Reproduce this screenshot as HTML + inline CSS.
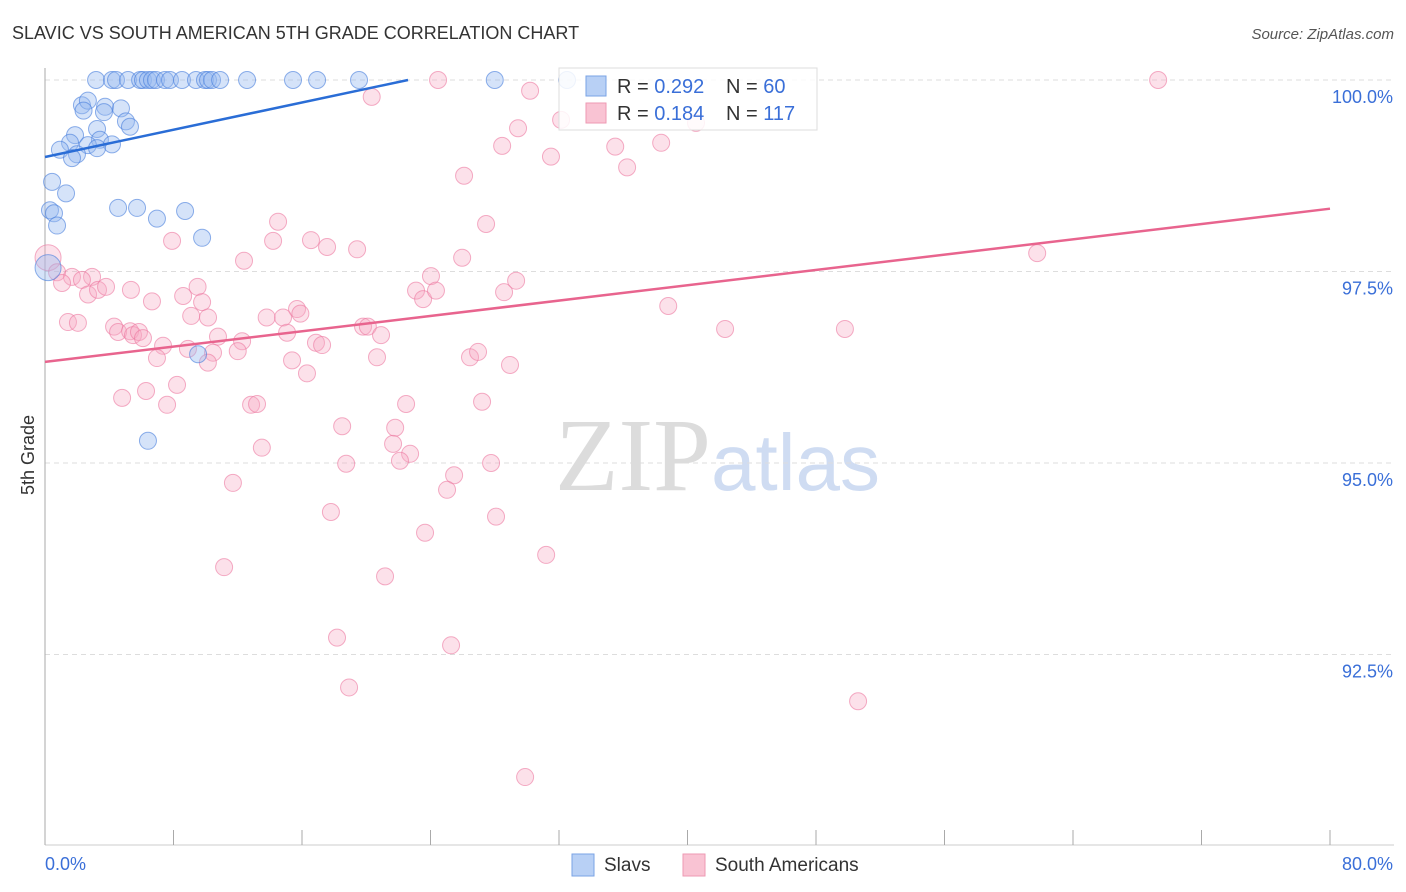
<!DOCTYPE html>
<html><head><meta charset="utf-8"><style>
body{margin:0;background:#fff;font-family:"Liberation Sans",sans-serif}
svg{display:block}
</style></head><body>
<svg id="chart" width="1406" height="892" xmlns="http://www.w3.org/2000/svg">
<text x="12" y="39" font-size="18" fill="#333" font-family="Liberation Sans, sans-serif">SLAVIC VS SOUTH AMERICAN 5TH GRADE CORRELATION CHART</text>
<text x="1394" y="39" font-size="15" fill="#555" font-style="italic" text-anchor="end">Source: ZipAtlas.com</text>
<text x="555" y="490" font-size="104" font-family="Liberation Serif, serif" fill="#dcdcdc">ZIP<tspan fill="#cfdcf2" font-family="Liberation Sans, sans-serif" font-size="80">atlas</tspan></text>
<text transform="translate(34,455) rotate(-90)" font-size="18" fill="#333" text-anchor="middle">5th Grade</text>
<g id="grid"></g><g id="axes"></g><g id="pts"></g><g id="lines"></g>
<g>
<rect x="559" y="68" width="258" height="62" fill="rgba(255,255,255,0.85)" stroke="#ddd"/>
<rect x="586" y="76" width="20" height="20" fill="#b8d0f5" stroke="#7aa3e5"/>
<rect x="586" y="103" width="20" height="20" fill="#f9c3d3" stroke="#ee99b3"/>
<text x="617" y="93" font-size="20" fill="#333">R = <tspan fill="#3a6fd8">0.292</tspan></text>
<text x="726" y="93" font-size="20" fill="#333">N = <tspan fill="#3a6fd8"> 60</tspan></text>
<text x="617" y="120" font-size="20" fill="#333">R = <tspan fill="#3a6fd8"> 0.184</tspan></text>
<text x="726" y="120" font-size="20" fill="#333">N = <tspan fill="#3a6fd8">117</tspan></text>
</g>
<g>
<rect x="572" y="854" width="22" height="22" fill="#b8d0f5" stroke="#7aa3e5"/>
<text x="604" y="871" font-size="19" fill="#333">Slavs</text>
<rect x="683" y="854" width="22" height="22" fill="#f9c3d3" stroke="#ee99b3"/>
<text x="715" y="871" font-size="19" fill="#333">South Americans</text>
</g>
</svg>
<script>
const yTicks=[100,97.5,95,92.5];
const yTickLabels=["100.0%","97.5%","95.0%","92.5%"];
const xTicks=[0,8,16,24,32,40,48,56,64,72,80];
const slavX=[3.18,4.17,4.42,5.17,5.92,6.1,6.41,6.66,6.91,7.47,7.78,8.53,9.4,9.96,10.15,10.4,10.9,12.58,15.44,16.94,19.55,28.0,32.5,2.3,2.67,2.4,3.74,4.73,3.67,5.04,5.29,3.24,1.87,3.42,4.17,2.67,1.56,0.93,1.99,1.68,3.24,0.44,1.31,0.31,0.56,0.75,4.55,5.73,6.97,8.72,9.78,0.19,9.53,6.41];
const slavY=[100,100,100,100,100,100,100,100,100,100,100,100,100,100,100,100,100,100,100,100,100,100,100,99.67,99.73,99.6,99.65,99.63,99.58,99.46,99.39,99.36,99.28,99.22,99.16,99.15,99.18,99.09,99.03,98.98,99.11,98.67,98.52,98.3,98.26,98.1,98.33,98.33,98.19,98.29,97.94,97.55,96.42,95.29];
const saX=[69.3,24.47,30.2,20.34,29.45,32.13,28.46,31.5,35.5,36.24,38.36,40.53,26.09,27.46,14.51,14.2,16.56,17.56,19.43,7.91,12.39,25.97,61.77,0.19,0.75,1.68,2.93,2.3,1.06,2.68,3.3,3.8,5.35,6.66,8.6,9.5,9.78,9.1,10.15,13.8,15.69,15.9,14.82,23.1,23.54,24.03,24.34,28.58,29.33,38.8,42.34,49.8,1.43,2.05,4.3,4.55,5.3,5.48,5.85,6.1,7.35,10.77,12.27,15.07,16.87,17.25,19.8,20.1,20.92,8.9,10.46,12.0,6.97,10.14,15.38,16.31,20.67,26.46,26.96,28.95,8.22,6.29,4.8,7.6,12.83,13.2,22.48,27.21,18.5,21.8,13.5,21.67,22.73,22.1,18.75,27.77,25.47,11.7,25.03,17.8,28.08,23.66,31.2,11.15,21.17,18.18,25.28,18.93,50.62,29.89];
const saY=[100,100,99.86,99.78,99.37,99.48,99.14,99.0,99.13,98.86,99.18,99.44,98.75,98.12,98.15,97.9,97.91,97.82,97.79,97.9,97.64,97.68,97.74,97.68,97.49,97.43,97.43,97.39,97.35,97.2,97.26,97.3,97.26,97.11,97.18,97.3,97.1,96.92,96.9,96.9,97.01,96.95,96.9,97.25,97.14,97.44,97.25,97.23,97.38,97.05,96.75,96.75,96.84,96.83,96.78,96.71,96.72,96.67,96.71,96.63,96.53,96.65,96.59,96.7,96.57,96.54,96.78,96.78,96.67,96.49,96.44,96.46,96.37,96.31,96.34,96.17,96.38,96.38,96.45,96.28,96.02,95.94,95.85,95.76,95.76,95.77,95.77,95.8,95.48,95.46,95.2,95.25,95.12,95.03,94.99,95.0,94.84,94.74,94.65,94.36,94.3,94.09,93.8,93.64,93.52,92.72,92.62,92.07,91.89,90.9];
const slavTrend=[[0,98.995],[22.6,100]];
const saTrend=[[0,96.32],[80,98.32]];
const NS="http://www.w3.org/2000/svg";
const X=v=>45+v*1285/80, Y=v=>80+(100-v)*76.6;
function mk(t,a,p){const e=document.createElementNS(NS,t);for(const k in a)e.setAttribute(k,a[k]);document.getElementById(p).appendChild(e);return e;}
yTicks.forEach((t,i)=>{
 const g=mk('line',{x1:45,x2:1394,y1:Y(t),y2:Y(t),stroke:'#ddd','stroke-dasharray':'5,4'},'grid');
 
 
 const l=mk('text',{x:1393,y:Y(t)+23,'font-size':18,fill:'#3a6fd8','text-anchor':'end'},'axes');
 l.textContent=yTickLabels[i];
 
 
});
const ax=mk('line',{x1:45,x2:45,y1:68,y2:845,stroke:'#aaa'},'axes');


const bx=mk('line',{x1:45,x2:1394,y1:845,y2:845,stroke:'#ccc'},'axes');


xTicks.forEach(t=>{
 const k=mk('line',{x1:X(t),x2:X(t),y1:830,y2:845,stroke:'#aaa'},'axes');
 
 
});
const x0=mk('text',{x:45,y:870,'font-size':18,fill:'#3a6fd8'},'axes');x0.textContent='0.0%';


const x1=mk('text',{x:1393,y:870,'font-size':18,fill:'#3a6fd8','text-anchor':'end'},'axes');x1.textContent='80.0%';


saX.forEach((v,i)=>{
 const c=mk('circle',{cx:X(v),cy:Y(saY[i]),r:i==23?13:8.5,fill:'rgba(246,170,195,0.35)',stroke:'rgba(236,120,160,0.6)','stroke-width':1},'pts');
 
 
});
slavX.forEach((v,i)=>{
 const c=mk('circle',{cx:X(v),cy:Y(slavY[i]),r:i==51?13:8.5,fill:'rgba(150,185,240,0.4)',stroke:'rgba(70,125,220,0.6)','stroke-width':1},'pts');
 
 
});
const l1=mk('line',{x1:X(slavTrend[0][0]),y1:Y(slavTrend[0][1]),x2:X(slavTrend[1][0]),y2:Y(slavTrend[1][1]),stroke:'#2a6dd6','stroke-width':2.5},'lines');


const l2=mk('line',{x1:X(saTrend[0][0]),y1:Y(saTrend[0][1]),x2:X(saTrend[1][0]),y2:Y(saTrend[1][1]),stroke:'#e8648e','stroke-width':2.5},'lines');


</script>
</body></html>
